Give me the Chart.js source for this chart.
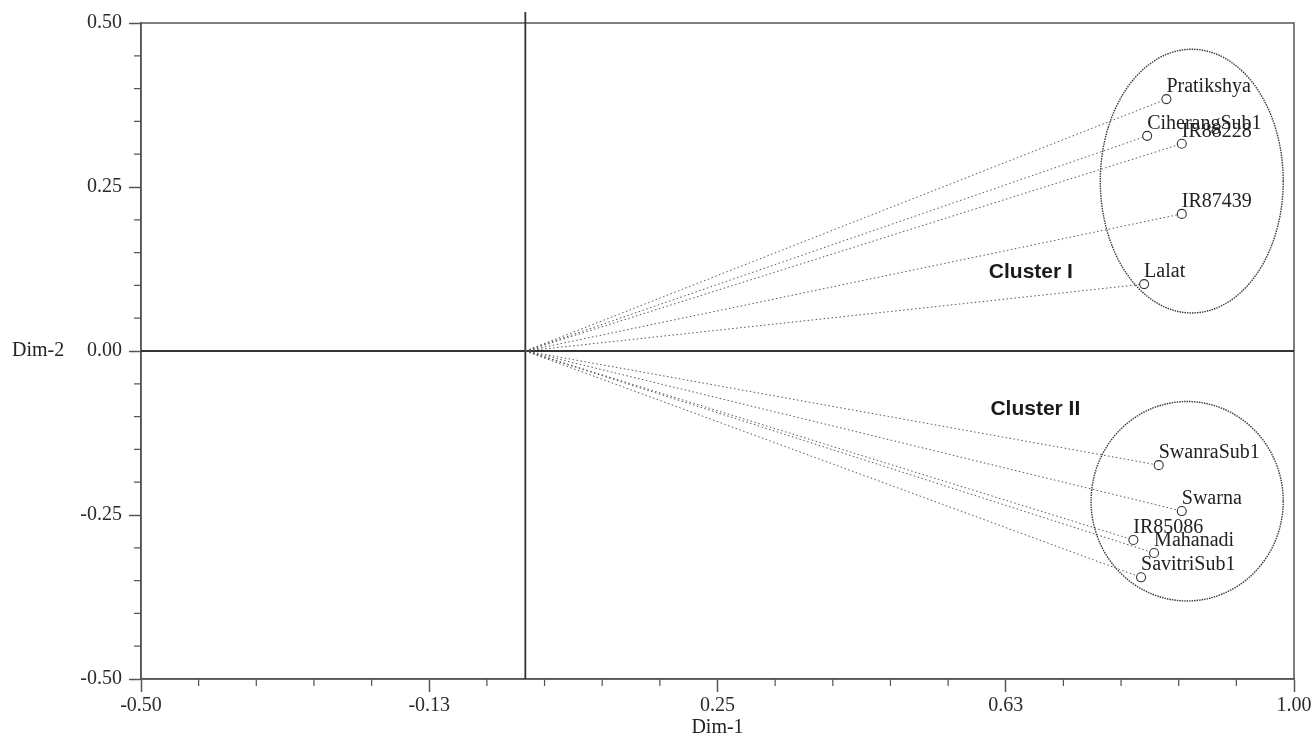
<!DOCTYPE html>
<html lang="en">
<head>
<meta charset="UTF-8">
<title>Dim-1 / Dim-2 cluster plot</title>
<script src="https://cdn.jsdelivr.net/npm/chart.js"></script>
<style>
  html, body { margin: 0; padding: 0; background: #fff; }
  #wrap { width: 1316px; height: 740px; }
</style>
</head>
<body>
<div id="wrap"><canvas id="chart" width="1316" height="740"></canvas></div>
<script>
// genotypes and their coordinates on the two dimensions
const genotypes = ['Pratikshya', 'CiherangSub1', 'IR88228', 'IR87439', 'Lalat',
                   'SwanraSub1', 'Swarna', 'IR85086', 'Mahanadi', 'SavitriSub1'];
const dim1 = [0.834, 0.809, 0.854, 0.854, 0.805, 0.824, 0.854, 0.791, 0.818, 0.801];
const dim2 = [0.384, 0.328, 0.316, 0.209, 0.102, -0.174, -0.244, -0.288, -0.308, -0.345];

const xTickLabels = ['-0.50', '-0.13', '0.25', '0.63', '1.00'];
const yTickLabels = ['-0.50', '-0.25', '0.00', '0.25', '0.50'];

// cluster ellipses (data units)
const clusterNames = ['Cluster I', 'Cluster II'];
const clusterCx = [0.867, 0.861];
const clusterCy = [0.259, -0.229];
const clusterRx = [0.119, 0.125];
const clusterRy = [0.201, 0.152];
const clusterLabelX = [0.603, 0.605];
const clusterLabelY = [0.120, -0.088];

const SERIF = '"Liberation Serif", "Times New Roman", serif';
const AXIS = '#555';

const rays = genotypes.map((g, i) => ({
    label: g,
    data: [{ x: 0, y: 0 }, { x: dim1[i], y: dim2[i] }],
    showLine: true,
    borderColor: '#555',
    borderWidth: 1,
    borderDash: [1.5, 2.5],
    pointRadius: 0,
    order: 2
}));

const markers = {
    label: 'genotypes',
    data: genotypes.map((g, i) => ({ x: dim1[i], y: dim2[i] })),
    pointRadius: 4.5,
    pointBackgroundColor: '#fff',
    pointBorderColor: '#333',
    pointBorderWidth: 1.1,
    order: 1
};

const decor = {
    id: 'decor',
    beforeDatasetsDraw(chart) {
        const { ctx, chartArea: a, scales: { x, y } } = chart;
        ctx.save();
        // frame
        ctx.strokeStyle = AXIS;
        ctx.lineWidth = 1.5;
        ctx.strokeRect(a.left, a.top, a.right - a.left, a.bottom - a.top);
        // zero lines
        const x0 = x.getPixelForValue(0), y0 = y.getPixelForValue(0);
        ctx.strokeStyle = '#333';
        ctx.lineWidth = 1.8;
        ctx.beginPath();
        ctx.moveTo(a.left, y0); ctx.lineTo(a.right, y0);
        ctx.moveTo(x0, a.top - 11); ctx.lineTo(x0, a.bottom);
        ctx.stroke();
        // minor ticks
        ctx.strokeStyle = AXIS;
        ctx.lineWidth = 1.2;
        ctx.beginPath();
        x.ticks.forEach((t, i) => {
            if (i % 5) {
                const px = x.getPixelForValue(t.value);
                ctx.moveTo(px, a.bottom); ctx.lineTo(px, a.bottom + 7);
            }
        });
        y.ticks.forEach((t, i) => {
            if (i % 5) {
                const py = y.getPixelForValue(t.value);
                ctx.moveTo(a.left, py); ctx.lineTo(a.left - 7, py);
            }
        });
        ctx.stroke();
        // y axis title, horizontal
        ctx.fillStyle = '#222';
        ctx.font = '20px ' + SERIF;
        ctx.textAlign = 'left';
        ctx.textBaseline = 'middle';
        ctx.fillText('Dim-2', 12, y0);
        ctx.restore();
    },
    afterDatasetsDraw(chart) {
        const { ctx, scales: { x, y } } = chart;
        ctx.save();
        // cluster ellipses
        ctx.strokeStyle = '#3a3a3a';
        ctx.lineWidth = 1.4;
        ctx.setLineDash([1.5, 1]);
        clusterNames.forEach((name, i) => {
            const cx = x.getPixelForValue(clusterCx[i]);
            const cy = y.getPixelForValue(clusterCy[i]);
            const rx = x.getPixelForValue(clusterCx[i] + clusterRx[i]) - cx;
            const ry = cy - y.getPixelForValue(clusterCy[i] + clusterRy[i]);
            ctx.beginPath();
            ctx.ellipse(cx, cy, rx, ry, 0, 0, Math.PI * 2);
            ctx.stroke();
        });
        ctx.setLineDash([]);
        // cluster labels
        ctx.fillStyle = '#1a1a1a';
        ctx.font = 'bold 21px "Liberation Sans", Arial, sans-serif';
        ctx.textAlign = 'left';
        ctx.textBaseline = 'middle';
        clusterNames.forEach((name, i) => {
            ctx.fillText(name, x.getPixelForValue(clusterLabelX[i]), y.getPixelForValue(clusterLabelY[i]));
        });
        // genotype labels
        const meta = chart.getDatasetMeta(chart.data.datasets.length - 1);
        ctx.fillStyle = '#222';
        ctx.font = '20px ' + SERIF;
        ctx.textBaseline = 'alphabetic';
        meta.data.forEach((pt, i) => {
            ctx.fillText(genotypes[i], pt.x, pt.y - 7);
        });
        ctx.restore();
    }
};

new Chart(document.getElementById('chart'), {
    type: 'scatter',
    data: { datasets: [...rays, markers] },
    options: {
        responsive: false,
        animation: false,
        layout: { padding: { left: 0, top: 23, right: 22, bottom: 0 } },
        plugins: { legend: { display: false }, tooltip: { enabled: false } },
        scales: {
            x: {
                type: 'linear',
                min: -0.5,
                max: 1.0,
                afterFit: s => { s.height = 61; },
                ticks: {
                    stepSize: 0.075,
                    autoSkip: false,
                    maxRotation: 0,
                    padding: 2,
                    color: '#2a2a2a',
                    font: { family: SERIF, size: 20 },
                    callback: (v, i) => (i % 5 === 0 ? xTickLabels[i / 5] : '')
                },
                grid: {
                    drawOnChartArea: false,
                    tickLength: 13,
                    tickWidth: 1.5,
                    tickColor: c => (c.index % 5 === 0 ? AXIS : 'transparent')
                },
                border: { display: true, color: AXIS, width: 1.5 },
                title: {
                    display: true,
                    text: 'Dim-1',
                    color: '#222',
                    font: { family: SERIF, size: 20 },
                    padding: { top: 0, bottom: 0 }
                }
            },
            y: {
                type: 'linear',
                min: -0.5,
                max: 0.5,
                afterFit: s => { s.width = 141; },
                ticks: {
                    stepSize: 0.05,
                    autoSkip: false,
                    padding: 7,
                    color: '#2a2a2a',
                    font: { family: SERIF, size: 20 },
                    callback: (v, i) => (i % 5 === 0 ? yTickLabels[i / 5] : '')
                },
                grid: {
                    drawOnChartArea: false,
                    tickLength: 12,
                    tickWidth: 1.5,
                    tickColor: c => (c.index % 5 === 0 ? AXIS : 'transparent')
                },
                border: { display: true, color: AXIS, width: 1.5 }
            }
        }
    },
    plugins: [decor]
});
</script>
</body>
</html>
